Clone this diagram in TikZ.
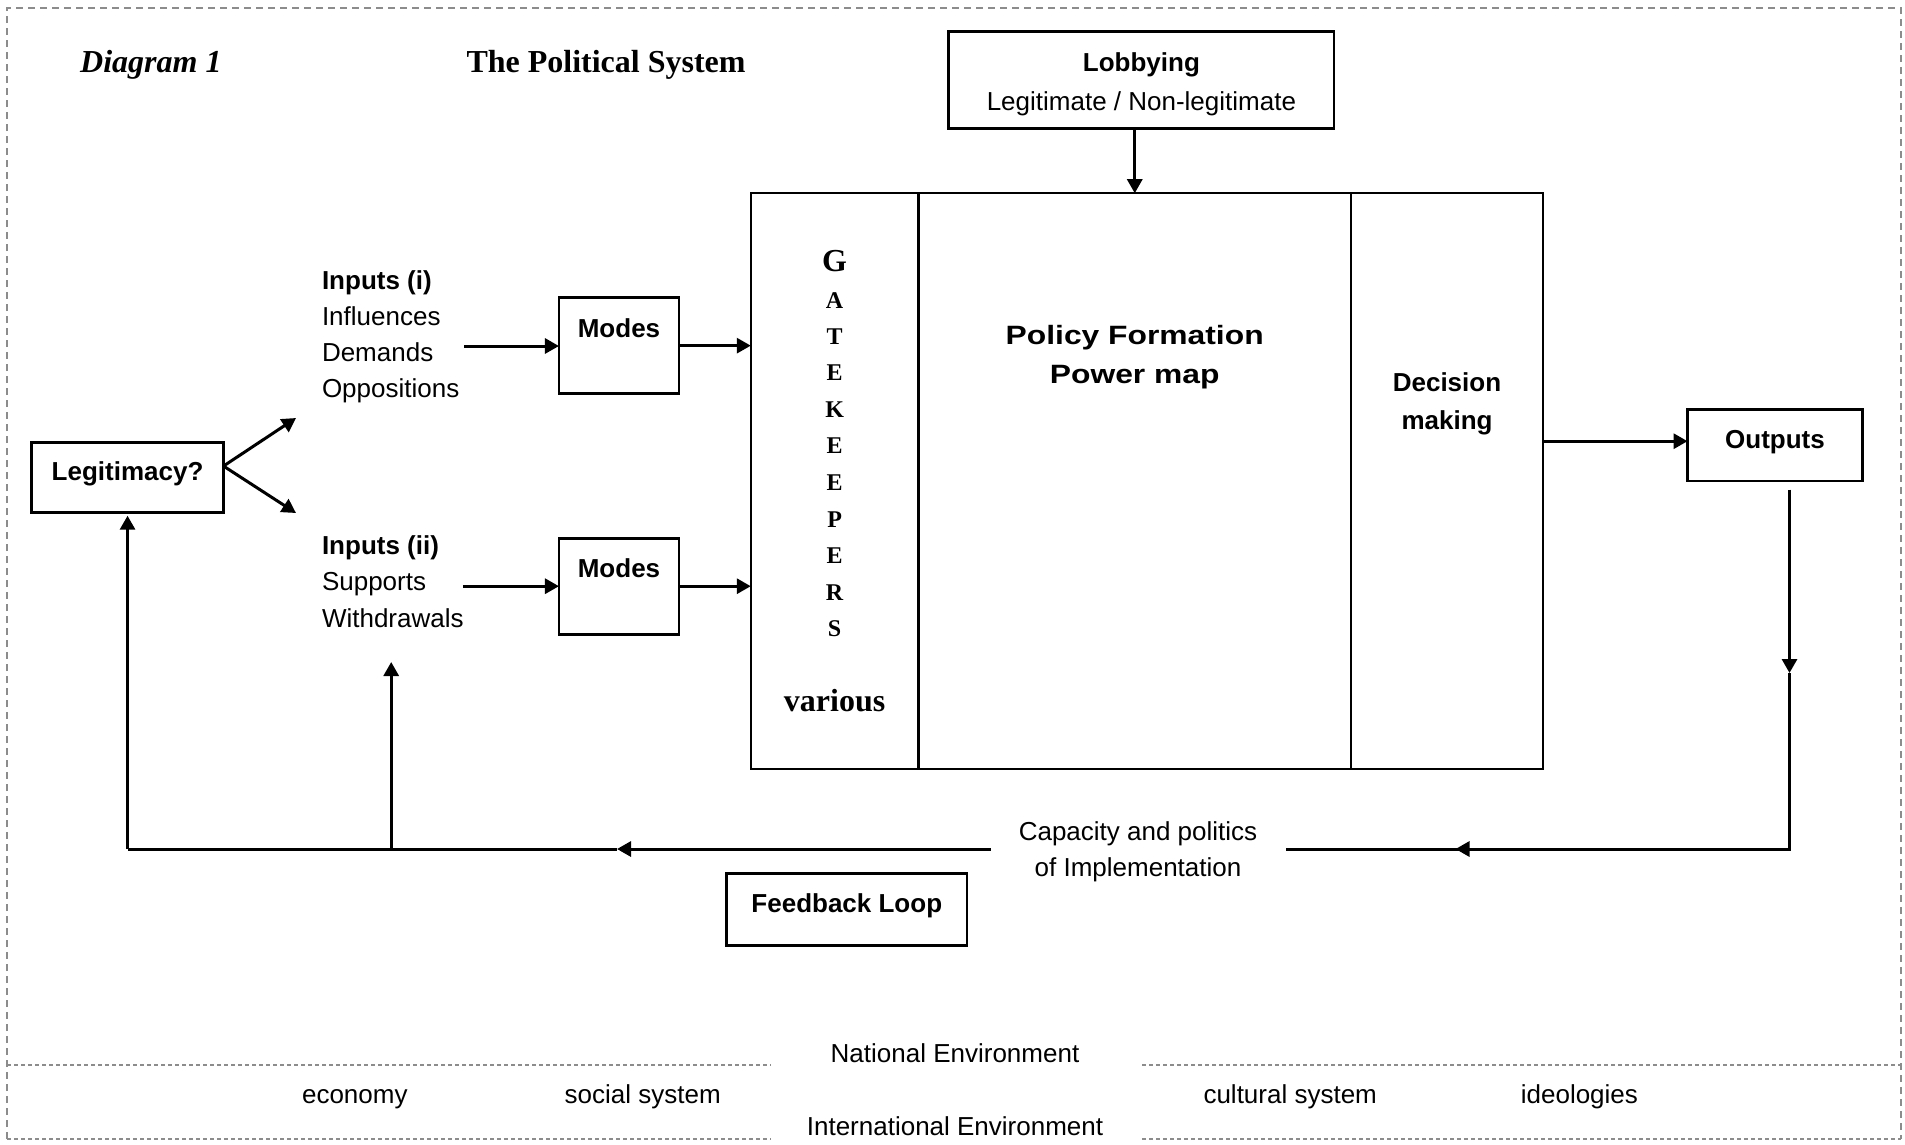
\documentclass[tikz,border=0pt]{standalone}
\usepackage{fontspec}
\setmainfont{Liberation Serif}
\setsansfont{Liberation Sans}
\newfontfamily\widesans[FakeStretch=1.2]{Liberation Sans}
\usetikzlibrary{arrows.meta}

\begin{document}
\begin{tikzpicture}[x=1pt,y=-1pt,
  every node/.style={inner sep=0pt, outer sep=0pt},
  sf/.style={font=\sffamily\fontsize{26}{36}\selectfont},
  sfb/.style={font=\sffamily\bfseries\fontsize{26}{36}\selectfont},
  wideb/.style={font=\widesans\bfseries\fontsize{26.5}{39}\selectfont},
  serifb/.style={font=\rmfamily\bfseries\fontsize{32}{38}\selectfont},
  gatesmall/.style={font=\rmfamily\bfseries\fontsize{24}{28}\selectfont, anchor=base},
  frame/.style={draw=black!45, line width=1.3pt, dash pattern=on 7pt off 5pt},
  strip/.style={draw=black!45, line width=1.3pt, dash pattern=on 4pt off 3pt},
  box/.style={draw, line width=2.7pt},
  centred/.style={text height=19pt, text depth=12pt},
  upper/.style={text height=19pt, text depth=36pt},
  panel/.style={draw, line width=2.4pt, minimum height=575.8pt, anchor=north west},
  link/.style={line width=3pt},
  arr/.style={link, -{Triangle[length=14pt,width=15pt]}}
]
\useasboundingbox (0,0) rectangle (1905,1144);

% environment frame and the two environment strips
\draw[frame] (7,1139) -- (7,8) -- (1901,8) -- (1901,1139);
\draw[strip] (7,1065) -- (771,1065);
\draw[strip] (1142,1065) -- (1901,1065);
\draw[strip] (7,1139) -- (771,1139);
\draw[strip] (1142,1139) -- (1901,1139);

% headings
\node[serifb, font=\rmfamily\bfseries\itshape\fontsize{32}{38}\selectfont, anchor=base west] (diag) at (80.2,72) {Diagram 1};
\node[serifb, anchor=base west] (title) at (466.5,72) {The Political System};

% lobbying
\node[box, sf, align=center, minimum width=385.2pt, minimum height=97.2pt] (lobby) at (1141.4,80.2)
  {\rule{0pt}{26pt}\textbf{Lobbying}\\[3pt]Legitimate / Non-legitimate};

% political system: gatekeepers, policy formation, decision making
\node[panel, minimum width=167.7pt] (gate) at (750.8,193.2) {};
\node[panel, minimum width=432.5pt] (policy) at (918.5,193.2) {};
\node[panel, minimum width=192pt] (decide) at (1351,193.2) {};

\node[serifb, anchor=base] (gG) at (834.6,271.5) {G};
\foreach \ch/\yb [count=\i] in {A/308.3,T/344,E/380.7,K/417.3,E/453.9,E/490.5,P/527.1,E/563.7,R/600.3,S/636.9}
  \node[gatesmall] (g\i) at (834.6,\yb) {\ch};
\node[serifb, anchor=base] (various) at (834.6,711) {various};

\node[wideb, align=center] (policytext) at (1134.7,357) {Policy Formation\\Power map};
\node[sfb, align=center] (decidetext) at (1447,404) {Decision\\[2pt]making};

% outputs
\node[box, sfb, centred, minimum width=174.9pt, minimum height=71.6pt] (outputs) at (1775,445.2) {Outputs};

% legitimacy
\node[box, sfb, centred, minimum width=191.9pt, minimum height=70.5pt] (legit) at (127.55,477.45) {Legitimacy?};

% inputs
\node[sfb, anchor=base west] (inAh) at (322,289.3) {Inputs (i)};
\node[sf, anchor=base west] (inA1) at (322,325.7) {Influences};
\node[sf, anchor=base west] (inA2) at (322,361.7) {Demands};
\node[sf, anchor=base west] (inA3) at (322,397.7) {Oppositions};
\node[sfb, anchor=base west] (inBh) at (322,554.5) {Inputs (ii)};
\node[sf, anchor=base west] (inB1) at (322,590.5) {Supports};
\node[sf, anchor=base west] (inB2) at (322,627) {Withdrawals};

% modes
\node[box, sfb, upper, minimum width=120.1pt, minimum height=95.9pt] (modesA) at (619,345.65) {Modes\hspace{8pt}};
\node[box, sfb, upper, minimum width=120.1pt, minimum height=96pt] (modesB) at (619,586.2) {Modes\hspace{8pt}};

% feedback
\node[sf, align=center, minimum width=295pt] (cap) at (1138,851.5) {Capacity and politics\\of Implementation};
\node[box, sfb, centred, minimum width=240.5pt, minimum height=71.7pt] (feedback) at (846.8,909.4) {Feedback Loop};

% connector end points
\coordinate (inAstart) at (464,346);
\coordinate (inBstart) at (462.9,586.2);
\coordinate (branchA) at (296,418);
\coordinate (branchB) at (296,513);
\coordinate (outTop) at (1789.5,489.6);
\coordinate (outMid) at (1789.5,673);
\coordinate (cornerR) at (1789.5,849);
\coordinate (midR) at (1455.5,849);
\coordinate (midL) at (617,849);
\coordinate (junction) at (391.2,849);
\coordinate (supportTip) at (391.2,662);
\coordinate (cornerL) at (127.55,849);

% forward flow
\draw[arr] (policy.north |- lobby.south) -- (policy.north);
\draw[arr] ([yshift=11.4pt]legit.east) -- (branchA);
\draw[arr] ([yshift=11.4pt]legit.east) -- (branchB);
\draw[arr] (inAstart) -- (modesA.west |- inAstart);
\draw[arr] (inBstart) -- (modesB.west |- inBstart);
\draw[arr] (modesA.east) -- (gate.west |- modesA.east);
\draw[arr] (modesB.east) -- (gate.west |- modesB.east);
\draw[arr] ([yshift=4pt]outputs.west -| decide.east) -- ([yshift=4pt]outputs.west);

% feedback loop
\draw[arr] (outTop) -- (outMid);
\draw[link] (outMid) -- (cornerR) -- (midR);
\draw[arr] (cornerR) -- (midR);
\draw[link] (midR) -- (cap.east |- cornerR);
\draw[arr] (cap.west |- cornerR) -- (midL);
\draw[link] (midL) -- (cornerL);
\draw[arr] (cornerL) -- ([yshift=-3pt]legit.south);
\draw[arr] (junction) -- (supportTip);

% environment labels
\node[sf, anchor=base] (natenv) at (955,1062) {National Environment};
\node[sf, anchor=base] (economy) at (354.8,1103) {economy};
\node[sf, anchor=base] (social) at (642.7,1103) {social system};
\node[sf, anchor=base] (cultural) at (1290.2,1103) {cultural system};
\node[sf, anchor=base] (ideologies) at (1579.4,1103) {ideologies};
\node[sf, anchor=base] (intenv) at (955,1135) {International Environment};
\end{tikzpicture}
\end{document}
